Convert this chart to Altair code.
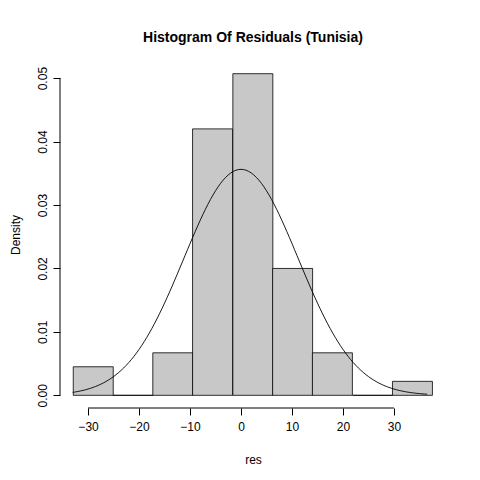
import altair as alt
import pandas as pd

# histogram bins (left edges, width) and densities
bin_start = [-32.9, -25.1, -17.3, -9.5, -1.6, 6.2, 14.0, 21.9, 29.7]
bin_width = 7.84
density = [0.0045, 0.0, 0.0067, 0.0420, 0.0507, 0.0200, 0.0067, 0.0, 0.0022]

# fitted normal curve parameters
curve_mean = 0.0
curve_sd = 11.2
curve_x = [-33 + 0.5 * i for i in range(140)]

x_ticks = [-30, -20, -10, 0, 10, 20, 30]
y_ticks = [0.0, 0.01, 0.02, 0.03, 0.04, 0.05]

FONT = "Liberation Sans"
W, H = 386, 347
X_MIN, X_MAX = -35.5, 40.2

bars = pd.DataFrame(
    {"x0": bin_start, "x1": [b + bin_width for b in bin_start], "density": density}
)
curve = pd.DataFrame({"x": curve_x, "mu": curve_mean, "sd": curve_sd})

xs = alt.Scale(domain=[X_MIN, X_MAX], nice=False, zero=False)
ys = alt.Scale(domain=[-0.002, 0.0527], nice=False, zero=False)

hist = (
    alt.Chart(bars)
    .mark_rect(fill="#c8c8c8", stroke="black", strokeWidth=0.8)
    .encode(
        x=alt.X(
            "x0:Q",
            scale=xs,
            title="res",
            axis=alt.Axis(
                values=x_ticks, domain=False, grid=False, tickSize=7, tickColor="black",
                labelFontSize=12, labelColor="black", labelFont=FONT, labelPadding=6,
                titleFont=FONT, titleFontSize=12, titleFontWeight="normal",
                titlePadding=22, titleColor="black",
            ),
        ),
        x2="x1:Q",
        y=alt.Y(
            "density:Q",
            scale=ys,
            title="Density",
            axis=alt.Axis(
                values=y_ticks, format=".2f", domain=False, grid=False, tickSize=7,
                tickColor="black", labelAngle=270, labelAlign="center",
                labelBaseline="bottom", labelFontSize=12, labelColor="black",
                labelFont=FONT, labelPadding=4, titleFont=FONT, titleFontSize=12,
                titleFontWeight="normal", titlePadding=14, titleColor="black",
            ),
        ),
        y2=alt.datum(0),
    )
)

line = (
    alt.Chart(curve)
    .transform_calculate(d="densityNormal(datum.x, datum.mu, datum.sd)")
    .mark_line(color="black", strokeWidth=0.9)
    .encode(x=alt.X("x:Q", scale=xs), y=alt.Y("d:Q", scale=ys))
)

xaxis_line = (
    alt.Chart(pd.DataFrame({"a": [x_ticks[0]], "b": [x_ticks[-1]], "y": [-0.002]}))
    .mark_rule(color="black", strokeWidth=1)
    .encode(x=alt.X("a:Q", scale=xs), x2="b:Q", y=alt.Y("y:Q", scale=ys))
)
yaxis_line = (
    alt.Chart(pd.DataFrame({"a": [y_ticks[0]], "b": [y_ticks[-1]], "x": [X_MIN]}))
    .mark_rule(color="black", strokeWidth=1)
    .encode(y=alt.Y("a:Q", scale=ys), y2="b:Q", x=alt.X("x:Q", scale=xs))
)

chart = (
    alt.layer(hist, line, xaxis_line, yaxis_line)
    .properties(
        width=W,
        height=H,
        autosize=alt.AutoSizeParams(type="none"),
        padding={"left": 52, "top": 53, "right": 26, "bottom": 64},
        title=alt.Title(
            "Histogram Of Residuals (Tunisia)", font=FONT, fontSize=14,
            fontWeight="bold", color="black", offset=16,
        ),
    )
    .configure_view(stroke=None)
    .configure_axis(offset=0)
)

chart.save("out.html", embed_options={"renderer": "svg", "actions": False})
